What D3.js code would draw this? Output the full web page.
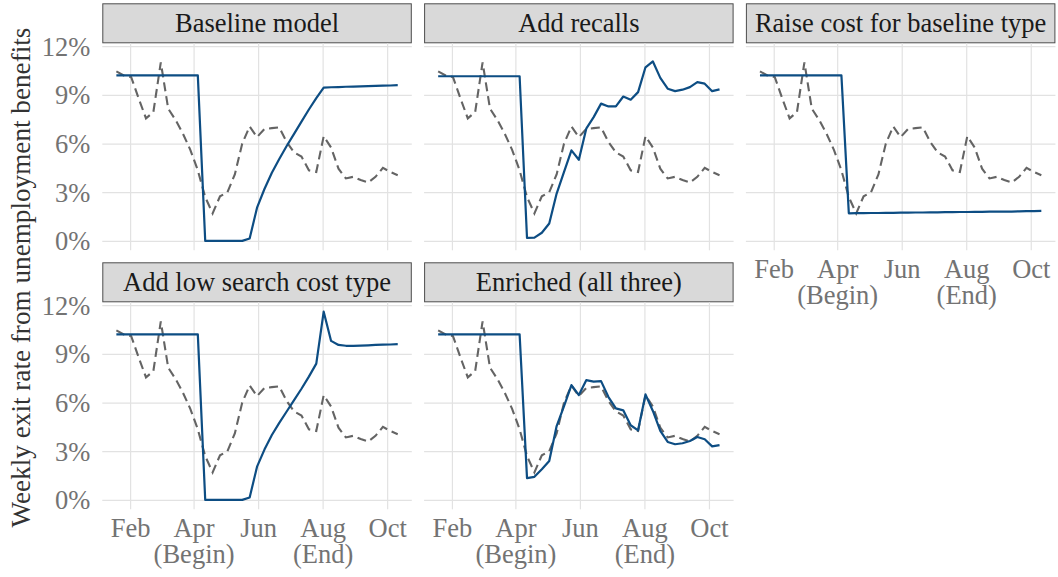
<!DOCTYPE html>
<html><head><meta charset="utf-8">
<script src="https://cdn.jsdelivr.net/npm/d3@7"></script>
<style>
body{margin:0;background:#fff}
svg{display:block}
text{font-family:"Liberation Serif","Times New Roman",serif}
</style>
</head><body>
<svg id="c" width="1058" height="577"></svg>
<script>
// ---- data ----
const weeks = ["2020-01-19","2020-01-26","2020-02-02","2020-02-09","2020-02-16","2020-02-23",
  "2020-03-01","2020-03-08","2020-03-15","2020-03-22","2020-03-29","2020-04-05","2020-04-12",
  "2020-04-19","2020-04-26","2020-05-03","2020-05-10","2020-05-17","2020-05-24","2020-05-31",
  "2020-06-07","2020-06-14","2020-06-21","2020-06-28","2020-07-05","2020-07-12","2020-07-19",
  "2020-07-26","2020-08-02","2020-08-09","2020-08-16","2020-08-23","2020-08-30","2020-09-06",
  "2020-09-13","2020-09-20","2020-09-27","2020-10-04","2020-10-11"];

const observed = [10.45,10.2,10.1,8.8,7.55,7.95,11.0,8.15,7.45,6.6,5.6,4.35,2.7,1.7,2.75,3.0,4.1,6.0,7.05,6.4,
  6.9,6.95,7.0,6.1,5.45,5.2,4.35,4.25,6.45,5.75,4.45,3.85,3.95,3.75,3.6,3.95,4.5,4.25,4.05];

const baseline = [10.2,10.2,10.2,10.2,10.2,10.2,10.2,10.2,10.2,10.2,10.2,10.2,0,0,0,0,0,0,0.15,2.05,
  3.2,4.2,5.05,5.85,6.6,7.35,8.1,8.8,9.45,9.47,9.48,9.5,9.51,9.52,9.54,9.55,9.57,9.58,9.6];

const addRecalls = [10.15,10.15,10.15,10.15,10.15,10.15,10.15,10.15,10.15,10.15,10.15,10.15,0.18,0.2,0.5,1.07,2.92,4.25,5.58,5.0,
  6.92,7.63,8.46,8.29,8.29,8.9,8.7,9.17,10.7,11.06,10.05,9.38,9.23,9.32,9.48,9.79,9.69,9.23,9.34];

const raiseCost = [10.2,10.2,10.2,10.2,10.2,10.2,10.2,10.2,10.2,10.2,10.2,10.2,1.70,1.71,1.71,1.72,1.72,1.73,1.73,1.74,
  1.74,1.75,1.75,1.76,1.76,1.77,1.77,1.78,1.78,1.79,1.79,1.80,1.80,1.81,1.81,1.82,1.83,1.84,1.85];

const lowSearch = [10.2,10.2,10.2,10.2,10.2,10.2,10.2,10.2,10.2,10.2,10.2,10.2,0,0,0,0,0,0,0.15,2.05,
  3.1,4.0,4.75,5.45,6.15,6.85,7.6,8.4,11.6,9.8,9.55,9.5,9.5,9.51,9.53,9.55,9.57,9.58,9.6];

const enriched = [10.2,10.2,10.2,10.2,10.2,10.2,10.2,10.2,10.2,10.2,10.2,10.2,1.34,1.42,1.89,2.4,4.55,5.78,7.08,6.46,
  7.38,7.29,7.32,6.34,5.64,5.52,4.6,4.29,6.5,5.48,4.25,3.57,3.43,3.49,3.63,3.88,3.74,3.3,3.38];

const panelTitles = ["Baseline model","Add recalls","Raise cost for baseline type",
  "Add low search cost type","Enriched (all three)"];
const xTickDates = ["2020-02-01","2020-04-01","2020-06-01","2020-08-01","2020-10-01"];
const xTickLabels = ["Feb","Apr\n(Begin)","Jun","Aug\n(End)","Oct"];
const yTicks = [0,3,6,9,12];
const yTitle = "Weekly exit rate from unemployment benefits";

// ---- setup ----
const parse = d3.utcParse("%Y-%m-%d");
const dates = weeks.map(parse);
const tickDates = xTickDates.map(parse);
const models = [baseline, addRecalls, raiseCost, lowSearch, enriched];

const svg = d3.select("#c");
const W = 309.5, gap = 12.3, left0 = 102.3, stripH = 40, panelH = 207;
const rowTop = [3.3, 262.3];
const FS = 26.5;
const FONT = '"Liberation Serif","Times New Roman",serif';

const xExt = d3.extent(dates);
const xPad = (xExt[1] - xExt[0]) * 0.05;
const x = d3.scaleUtc()
  .domain([new Date(+xExt[0] - xPad), new Date(+xExt[1] + xPad)])
  .range([0, W]);

const allVals = models.flat().concat(observed);
const yMin = d3.min(allVals), yMax = d3.max(allVals);
const yPad = (yMax - yMin) * 0.05;
const y = d3.scaleLinear().domain([yMin - yPad, yMax + yPad]).range([panelH, 0]);

const line = d3.line().x((d, i) => x(dates[i])).y(d => y(d));

panelTitles.forEach((title, k) => {
  const col = k % 3, row = Math.floor(k / 3);
  const gx = left0 + col * (W + gap), gy = rowTop[row];
  const g = svg.append("g").attr("transform", `translate(${gx},${gy})`);

  // strip
  g.append("rect").attr("x", 0.5).attr("y", 0.5).attr("width", W - 1).attr("height", stripH - 1)
    .attr("fill", "#d9d9d9").attr("stroke", "#4d4d4d").attr("stroke-width", 1);
  g.append("text").attr("x", W / 2).attr("y", stripH / 2).attr("dy", "0.34em")
    .attr("text-anchor", "middle").attr("font-size", FS).attr("fill", "#1a1a1a").text(title);

  const p = g.append("g").attr("transform", `translate(0,${stripH})`);

  // gridlines
  p.append("g")
    .call(d3.axisLeft(y).tickValues(yTicks).tickSize(-W).tickFormat(""))
    .call(s => s.select(".domain").remove())
    .selectAll("line").attr("stroke", "#e2e2e2").attr("stroke-width", 1.2);
  p.append("g").attr("transform", `translate(0,${panelH})`)
    .call(d3.axisBottom(x).tickValues(tickDates).tickSize(-panelH).tickFormat(""))
    .call(s => s.select(".domain").remove())
    .selectAll("line").attr("stroke", "#e2e2e2").attr("stroke-width", 1.2);

  // observed (dashed)
  p.append("path").datum(observed).attr("d", line).attr("fill", "none")
    .attr("stroke", "#646464").attr("stroke-width", 2.1).attr("stroke-dasharray", "9,5");
  // model (solid)
  p.append("path").datum(models[k]).attr("d", line).attr("fill", "none")
    .attr("stroke", "#0d4d83").attr("stroke-width", 2.2).attr("stroke-linejoin", "round");

  // y axis labels
  if (col === 0) {
    const ya = p.append("g")
      .call(d3.axisLeft(y).tickValues(yTicks).tickSize(0).tickPadding(12).tickFormat(d => d + "%"));
    ya.select(".domain").remove();
    ya.selectAll("text").attr("font-size", FS).attr("fill", "#737373")
      .attr("font-family", FONT).attr("dy", "0.34em");
  }
  // x axis labels (multi-line ticks as separate text lines)
  if (row === 1 || (row === 0 && col === 2)) {
    const xa = p.append("g").attr("transform", `translate(0,${panelH})`)
      .call(d3.axisBottom(x).tickValues(tickDates).tickSize(0).tickFormat((d, i) => xTickLabels[i].split("\n")[0]));
    xa.select(".domain").remove();
    xa.selectAll("text").attr("y", 27.8).attr("dy", null).attr("font-size", FS)
      .attr("fill", "#737373").attr("font-family", FONT);
    xa.selectAll(".tick").each(function(d, i) {
      const parts = xTickLabels[i].split("\n");
      if (parts.length > 1) {
        d3.select(this).append("text").attr("x", 0).attr("y", 27.8 + 26)
          .attr("text-anchor", "middle").attr("font-size", FS).attr("fill", "#737373")
          .attr("font-family", FONT).text(parts[1]);
      }
    });
  }
});

// y axis title
svg.append("text")
  .attr("transform", "translate(29.5,277.5) rotate(-90)")
  .attr("text-anchor", "middle").attr("font-size", 27.2).attr("fill", "#333333")
  .text(yTitle);
</script>
</body></html>
